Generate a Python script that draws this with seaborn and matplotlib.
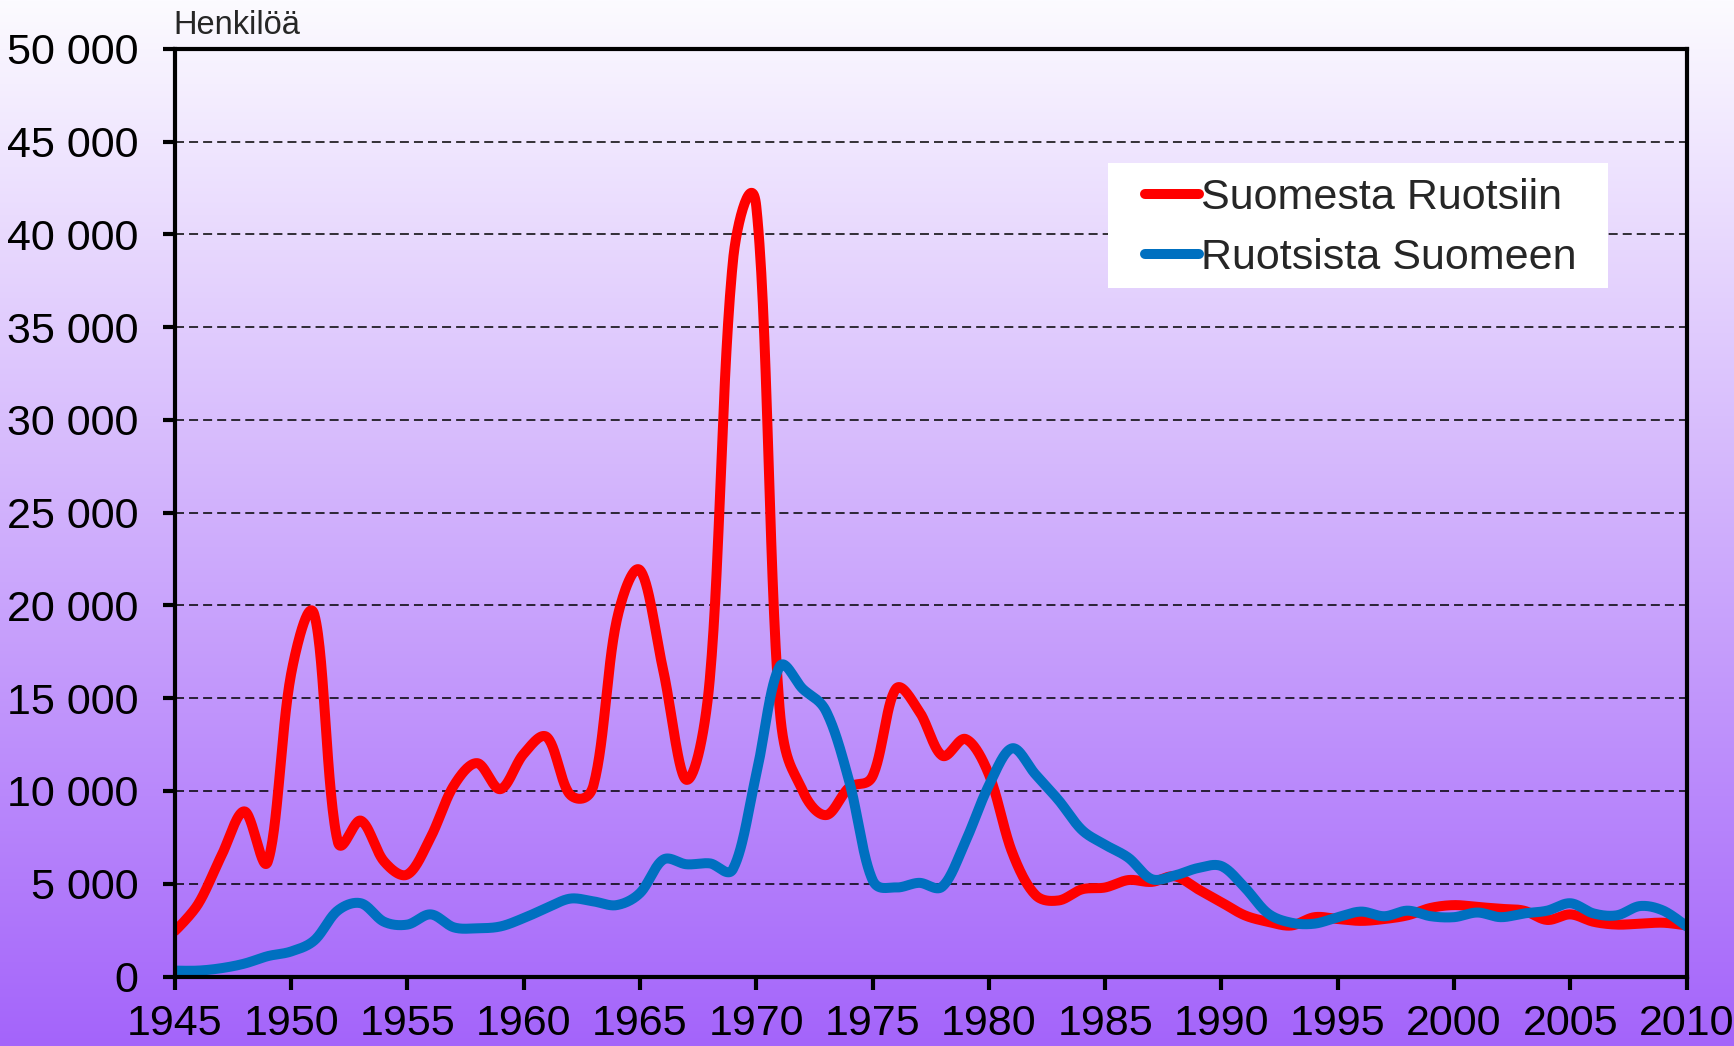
import numpy as np
import pandas as pd
import matplotlib
matplotlib.use("Agg")
import matplotlib.pyplot as plt
import seaborn as sns
from matplotlib.patches import Rectangle
from matplotlib.ticker import FuncFormatter, MultipleLocator

# vuodet
years = list(range(1945, 2011))

# Suomesta Ruotsiin (henkilöä)
fi_to_se = [2450, 3900, 6500, 8900, 6200, 16300, 19500, 7300, 8400, 6200,
            5500, 7500, 10300, 11500, 10100, 12000, 12900, 9800, 10300, 19200,
            21900, 16500, 10600, 16000, 38600, 41500, 14500, 10000, 8700, 10200,
            10800, 15500, 14300, 11900, 12800, 10900, 6700, 4400, 4100, 4700,
            4800, 5200, 5100, 5400, 4700, 4000, 3300, 2950, 2750, 3200,
            3100, 3000, 3100, 3300, 3700, 3850, 3750, 3650, 3550, 3050,
            3350, 2950, 2800, 2850, 2900, 2750]

# Ruotsista Suomeen (henkilöä)
se_to_fi = [320, 320, 450, 700, 1100, 1350, 1950, 3550, 3950, 2950,
            2800, 3350, 2650, 2600, 2700, 3150, 3700, 4200, 4050, 3850,
            4500, 6300, 6050, 6100, 5800, 10900, 16700, 15500, 14300, 10500,
            5200, 4800, 5050, 4850, 7300, 10300, 12300, 10900, 9500, 7900,
            7100, 6400, 5250, 5450, 5850, 5950, 4800, 3400, 2900, 2850,
            3200, 3500, 3250, 3550, 3250, 3200, 3450, 3200, 3400, 3550,
            3950, 3400, 3300, 3800, 3550, 2700]

series_names = ["Suomesta Ruotsiin", "Ruotsista Suomeen"]
series_colors = ["#ff0000", "#0070c0"]
x_ticks = list(range(1945, 2011, 5))

# kuvan mitat pikseleinä (pehmennystä varten)
PX_YEAR = 1511.8 / 65
PX_UNIT = 927.8 / 50000


def smooth(x, y, steps=30, tension=1 / 3, power=0.5):
    # Excel-tyylinen pehmennys: Bezier, ohjauspisteet janojen pituuksien mukaan
    x = np.asarray(x, float)
    y = np.asarray(y, float)
    n = len(x)
    sxp, syp = x * PX_YEAR, y * PX_UNIT
    c_in = np.zeros((n, 2))
    c_out = np.zeros((n, 2))
    c_in[0] = c_out[0] = (x[0], y[0])
    c_in[-1] = c_out[-1] = (x[-1], y[-1])
    for i in range(1, n - 1):
        d01 = np.hypot(sxp[i] - sxp[i - 1], syp[i] - syp[i - 1]) ** power
        d12 = np.hypot(sxp[i + 1] - sxp[i], syp[i + 1] - syp[i]) ** power
        fa = tension * d01 / (d01 + d12)
        fb = tension * d12 / (d01 + d12)
        dx, dy = x[i + 1] - x[i - 1], y[i + 1] - y[i - 1]
        c_in[i] = (x[i] - fa * dx, y[i] - fa * dy)
        c_out[i] = (x[i] + fb * dx, y[i] + fb * dy)
    t = np.linspace(0, 1, steps, endpoint=False)[:, None]
    parts = []
    for i in range(n - 1):
        p0 = np.array([x[i], y[i]])
        p3 = np.array([x[i + 1], y[i + 1]])
        p1, p2 = c_out[i], c_in[i + 1]
        parts.append((1 - t) ** 3 * p0 + 3 * (1 - t) ** 2 * t * p1
                     + 3 * (1 - t) * t ** 2 * p2 + t ** 3 * p3)
    parts.append(np.array([[x[-1], y[-1]]]))
    pts = np.vstack(parts)
    return pts[:, 0], pts[:, 1]


sns.set_style("ticks")
plt.rcParams['font.family'] = ['Liberation Sans', 'DejaVu Sans']

fig = plt.figure(figsize=(17.34, 10.46), dpi=100)

# liukuväritausta koko kuvalle
bg = fig.add_axes([0, 0, 1, 1], zorder=0)
top = np.array([252, 251, 255]) / 255
bottom = np.array([164, 100, 250]) / 255
k = np.linspace(0, 1, 512)[:, None, None]
grad = top + (bottom - top) * k
bg.imshow(grad, aspect='auto', extent=[0, 1, 0, 1])
bg.axis('off')

ax = fig.add_axes([0.1008, 0.0664, 0.8719, 0.887], zorder=1)
ax.set_facecolor('none')

for vals, name, col in zip([fi_to_se, se_to_fi], series_names, series_colors):
    sx, sy = smooth(years, vals)
    df = pd.DataFrame({'vuosi': sx, 'arvo': sy})
    sns.lineplot(data=df, x='vuosi', y='arvo', ax=ax, color=col, lw=7.2,
                 label=name, sort=False, solid_capstyle='round')

ax.set_xlim(1945, 2010)
ax.set_ylim(0, 50000)
ax.set_xticks(x_ticks)
ax.yaxis.set_major_locator(MultipleLocator(5000))
ax.yaxis.set_major_formatter(FuncFormatter(lambda v, p: f"{int(v):,}".replace(",", " ")))
ax.set_xlabel("")
ax.set_ylabel("")

ax.grid(axis='y', color='black', linestyle=(0, (5.9, 3.3)), lw=1.1)
ax.grid(axis='x', visible=False)
for s in ax.spines.values():
    s.set_visible(True)
    s.set_linewidth(3)
    s.set_color('black')
ax.tick_params(axis='both', direction='out', length=9, width=3,
               labelsize=31, colors='black')
ax.tick_params(axis='y', pad=17)
ax.tick_params(axis='x', pad=11)

ax.text(-0.001, 1.0158, "Henkilöä", transform=ax.transAxes, ha='left',
        va='baseline', fontsize=23.5)

# valkoinen selitelaatikko
ax.add_patch(Rectangle((0.6173, 0.7421), 0.948 - 0.6173, 0.8768 - 0.7421,
                       transform=ax.transAxes, facecolor='white',
                       edgecolor='none', zorder=4))
leg = ax.legend(loc='upper left', bbox_to_anchor=(0.6418, 0.861),
                borderaxespad=0, borderpad=0, fontsize=31, frameon=False,
                handlelength=1.25, handletextpad=0.05, labelspacing=0.48)
leg.set_zorder(5)
for line in leg.get_lines():
    line.set_linewidth(7.2)
    line.set_solid_capstyle('round')

fig.savefig("out.png", dpi=100)
